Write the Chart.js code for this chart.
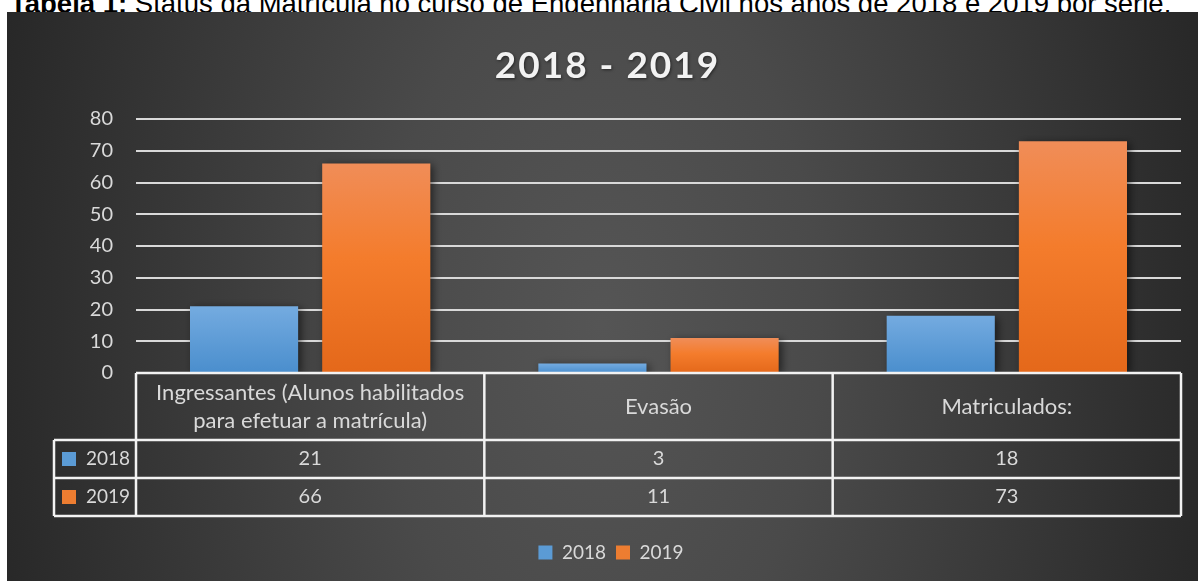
<!DOCTYPE html>
<html>
<head>
<meta charset="utf-8">
<script src="https://cdn.jsdelivr.net/npm/chart.js@4.4.1/dist/chart.umd.min.js"></script>
<style>
  html, body { margin: 0; padding: 0; background: #fff; width: 1198px; height: 581px; overflow: hidden; }
  #caption { position: absolute; left: 10px; top: -11px; font-family: "Liberation Sans", Arial, sans-serif; font-size: 27.5px; line-height: 30px; color: #000; white-space: nowrap; }
  #chart { position: absolute; left: 7px; top: 12px; z-index: 1; }
</style>
</head>
<body>
<div id="caption"><b>Tabela 1:</b> Status da Matrícula no curso de Engenharia Civil nos anos de 2018 e 2019 por série.</div>
<canvas id="chart" width="1191" height="569"></canvas>
<script>
// --- Data ---
const chartTitle = '2018 - 2019';
const categories = [
    ['Ingressantes (Alunos habilitados', 'para efetuar a matrícula)'],
    ['Evasão'],
    ['Matriculados:']
];
const seriesNames = ['2018', '2019'];
const values2018 = [21, 3, 18];
const values2019 = [66, 11, 73];
const yMin = 0;
const yMax = 80;
const yStep = 10;

// --- Styles ---
const FONT = 'Lato, "Open Sans", sans-serif';
const TEXT_COLOR = '#d9d9d9';
const seriesColors = ['#5b9bd5', '#ed7d31'];
const seriesGradients = [
    [[0, '#74abe0'], [1, '#4a8ecd']],
    [[0, '#f08d58'], [0.45, '#f47c2c'], [1, '#e4681a']]
];

function barGradient(context) {
    const chart = context.chart;
    if (!chart.chartArea || context.type !== 'data') return seriesColors[context.datasetIndex];
    const y = chart.scales.y;
    const top = y.getPixelForValue(context.raw);
    const base = y.getPixelForValue(0);
    const g = chart.ctx.createLinearGradient(0, top, 0, base);
    seriesGradients[context.datasetIndex].forEach(([p, c]) => g.addColorStop(p, c));
    return g;
}

// --- Plugins ---
const backgroundPlugin = {
    id: 'panelBackground',
    beforeDraw(chart) {
        const { ctx, width, height } = chart;
        ctx.save();
        const cx = width * 0.5;
        const cy = height * 0.55;
        const sy = 1.7;
        ctx.translate(cx, cy);
        ctx.scale(1, sy);
        const g = ctx.createRadialGradient(0, 0, 0, 0, 0, 620);
        g.addColorStop(0, '#555555');
        g.addColorStop(0.35, '#4a4a4a');
        g.addColorStop(1, '#282828');
        ctx.fillStyle = g;
        ctx.fillRect(-cx, -cy / sy, width, height / sy);
        ctx.restore();

        // title
        ctx.save();
        ctx.font = 'bold 37px ' + FONT;
        ctx.letterSpacing = '2px';
        ctx.fillStyle = '#f2f2f2';
        ctx.textAlign = 'center';
        ctx.textBaseline = 'alphabetic';
        ctx.shadowColor = 'rgba(0,0,0,0.5)';
        ctx.shadowBlur = 3;
        ctx.shadowOffsetX = 1;
        ctx.shadowOffsetY = 1;
        ctx.fillText(chartTitle, width / 2 + 5, 66);
        ctx.restore();
    }
};

const barShadowPlugin = {
    id: 'barShadow',
    beforeDatasetsDraw(chart) {
        const c = chart.ctx;
        c.save();
        c.shadowColor = 'rgba(0,0,0,0.55)';
        c.shadowBlur = 8;
        c.shadowOffsetX = 3;
        c.shadowOffsetY = 2;
    },
    afterDatasetsDraw(chart) {
        chart.ctx.restore();
    }
};

const dataTablePlugin = {
    id: 'dataTable',
    afterDraw(chart) {
        const { ctx, chartArea } = chart;
        const x = chart.scales.x;
        const n = categories.length;
        const top = chartArea.bottom;
        const headerBottom = top + 67;
        const rowH = 38;
        const tableBottom = headerBottom + rowH * seriesNames.length;
        const legendLeft = 47;
        const bounds = [];
        for (let i = 0; i <= n; i++) bounds.push(x.getPixelForValue(i - 0.5));

        ctx.save();
        ctx.strokeStyle = '#f2f2f2';
        ctx.lineWidth = 2.5;
        ctx.beginPath();
        ctx.moveTo(bounds[0], top);
        ctx.lineTo(bounds[n], top);
        for (let r = 0; r <= seriesNames.length; r++) {
            const yy = headerBottom + r * rowH;
            ctx.moveTo(legendLeft, yy);
            ctx.lineTo(bounds[n], yy);
        }
        bounds.forEach(b => {
            ctx.moveTo(b, top);
            ctx.lineTo(b, tableBottom);
        });
        ctx.moveTo(legendLeft, headerBottom);
        ctx.lineTo(legendLeft, tableBottom);
        ctx.stroke();

        ctx.fillStyle = TEXT_COLOR;
        ctx.font = '22px ' + FONT;
        ctx.textAlign = 'center';
        ctx.textBaseline = 'middle';

        // header cells
        const headerMid = (top + headerBottom) / 2;
        categories.forEach((lines, i) => {
            const cxp = x.getPixelForValue(i);
            const lh = 28;
            const start = headerMid - (lines.length - 1) * lh / 2;
            lines.forEach((ln, k) => ctx.fillText(ln, cxp, start + k * lh));
        });

        // value rows
        ctx.font = '20px ' + FONT;
        chart.data.datasets.forEach((ds, d) => {
            const mid = headerBottom + d * rowH + rowH / 2;
            ds.data.forEach((v, i) => ctx.fillText(String(v), x.getPixelForValue(i), mid));
            ctx.fillStyle = seriesColors[d];
            ctx.fillRect(legendLeft + 8, mid - 7, 14, 14);
            ctx.fillStyle = TEXT_COLOR;
            ctx.textAlign = 'right';
            ctx.font = '19px ' + FONT;
            ctx.fillText(seriesNames[d], bounds[0] - 6, mid);
            ctx.font = '20px ' + FONT;
            ctx.textAlign = 'center';
        });
        ctx.restore();
    }
};

// --- Chart ---
const chart = new Chart(document.getElementById('chart'), {
    type: 'bar',
    data: {
        labels: categories.map(c => c.join(' ')),
        datasets: [
            { label: seriesNames[0], data: values2018, backgroundColor: barGradient },
            { label: seriesNames[1], data: values2019, backgroundColor: barGradient }
        ]
    },
    options: {
        responsive: false,
        animation: false,
        devicePixelRatio: 1,
        categoryPercentage: 0.759,
        barPercentage: 0.818,
        layout: { padding: { top: 107, left: 34, right: 17, bottom: 9 } },
        scales: {
            x: {
                grid: { display: false },
                border: { display: false },
                ticks: { display: false },
                afterFit(scale) { scale.height = 160; }
            },
            y: {
                min: yMin,
                max: yMax,
                ticks: {
                    stepSize: yStep,
                    color: TEXT_COLOR,
                    padding: 23,
                    font: { family: FONT, size: 20 }
                },
                grid: { color: '#d9d9d9', lineWidth: 2, drawTicks: false },
                border: { display: false },
                afterFit(scale) { scale.width = 95; }
            }
        },
        plugins: {
            title: { display: false },
            tooltip: { enabled: false },
            legend: {
                position: 'bottom',
                labels: {
                    color: TEXT_COLOR,
                    font: { family: FONT, size: 19 },
                    boxWidth: 14,
                    boxHeight: 14,
                    padding: 10,
                    generateLabels: (c) => seriesNames.map((name, i) => ({
                        text: name,
                        fillStyle: seriesColors[i],
                        strokeStyle: seriesColors[i],
                        lineWidth: 0,
                        fontColor: TEXT_COLOR,
                        hidden: false,
                        datasetIndex: i
                    }))
                }
            }
        }
    },
    plugins: [backgroundPlugin, barShadowPlugin, dataTablePlugin]
});
</script>
</body>
</html>
